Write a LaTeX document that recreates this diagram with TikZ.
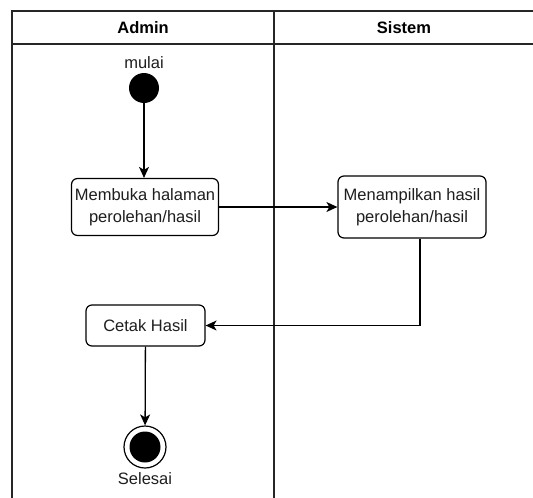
\documentclass[tikz,border=0pt]{standalone}
\usepackage{fontspec}
\setmainfont{Liberation Sans}
\usepackage{xcolor}
\definecolor{ink}{RGB}{0,0,0}
\definecolor{lane}{RGB}{38,38,38}
\definecolor{label}{RGB}{30,30,30}
\usetikzlibrary{arrows.meta,positioning,calc}

\tikzset{
  %% swimlane frame
  laneline/.style={draw=lane, line width=1.7pt},
  lanehead/.style={font=\fontsize{16.5}{20}\selectfont\bfseries, text=ink},
  %% activities
  actbox/.style={draw=ink, line width=1.2pt, rounded corners=6pt, fill=white,
                 align=center, inner sep=2pt,
                 font=\fontsize{16.5}{22}\selectfont, text=label},
  startdot/.style={circle, fill=ink, minimum size=30pt, inner sep=0pt},
  endring/.style={circle, draw=ink, line width=1.2pt, fill=white,
                  minimum size=42pt, inner sep=0pt},
  enddot/.style={circle, fill=ink, minimum size=31pt, inner sep=0pt},
  caption/.style={font=\fontsize{16.5}{20}\selectfont, text=label},
  flow/.style={draw=ink, line width=1.3pt,
               -{Stealth[length=11pt,width=10pt,inset=3pt]}},
}

\begin{document}
\begin{tikzpicture}[x=1pt, y=-1pt]
\useasboundingbox (0,0) rectangle (533,498);

%% lanes
\draw[laneline] (12,498) -- (12,11) -- (533,11);
\draw[laneline] (12,44) -- (533,44);
\draw[laneline] (274,11) -- (274,498);
\node[lanehead] (hadmin) at (143,28) {Admin};
\node[lanehead] (hsistem) at (404,28) {Sistem};

%% Admin
\node[startdot] (start) at (144,88) {};
\node[caption, above=1pt of start] (lblmulai) {mulai};
\node[actbox, minimum width=147pt, minimum height=57pt] (buka) at (145,207)
  {Membuka halaman\\perolehan/hasil};
\node[actbox, minimum width=119pt, minimum height=41pt] (cetak) at (145.5,325.5)
  {Cetak Hasil};
\node[endring] (selesai) at (145,447) {};
\node[enddot] (selesaidot) at (selesai.center) {};
\node[caption, below=0pt of selesai] (lblselesai) {Selesai};

%% Sistem
\node[actbox, minimum width=148pt, minimum height=62pt] (tampil) at (412,207)
  {Menampilkan hasil\\perolehan/hasil};

%% flows
\draw[flow] (start) -- (start |- buka.north);
\draw[flow] (buka) -- (tampil);
\draw[flow] ([xshift=8pt]tampil.south) |- (cetak.east);
\draw[flow] (cetak) -- (selesai);
\end{tikzpicture}
\end{document}
